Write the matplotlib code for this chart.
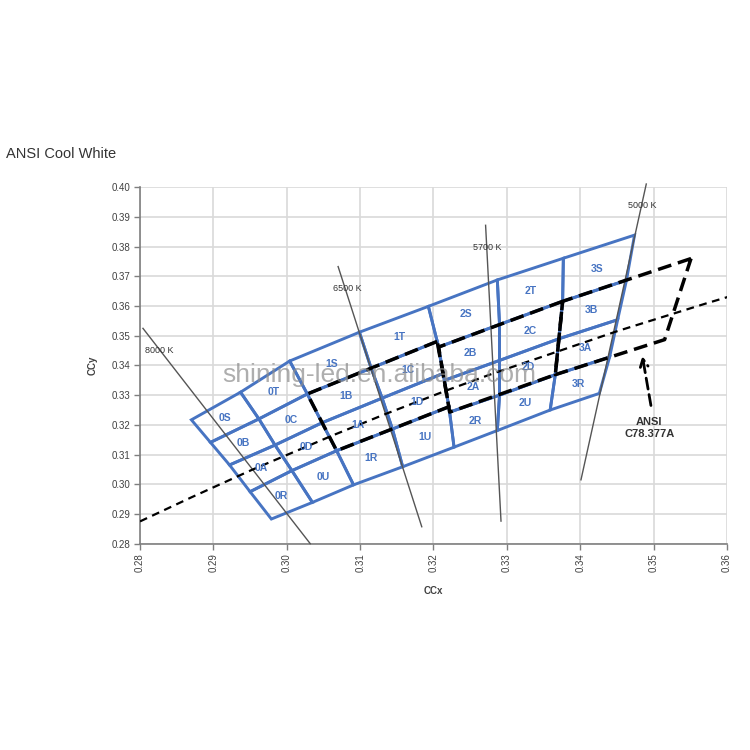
import matplotlib.pyplot as plt
from matplotlib.patches import Polygon

# bin grid nodes, row lines bottom (L0) to top (L4)
# west half: column lines C0..C4 (6500K side)
west_x = [
    [0.2979, 0.3035, 0.3091, 0.3158, 0.3228],
    [0.2950, 0.3007, 0.3068, 0.3144, 0.3221],
    [0.2922, 0.2984, 0.3048, 0.3130, 0.3213],
    [0.2896, 0.2962, 0.3028, 0.3115, 0.3205],
    [0.2870, 0.2937, 0.3004, 0.3099, 0.3193],
]
west_y = [
    [0.2883, 0.2939, 0.2998, 0.3059, 0.3125],
    [0.2975, 0.3046, 0.3113, 0.3186, 0.3261],
    [0.3065, 0.3132, 0.3207, 0.3290, 0.3373],
    [0.3141, 0.3220, 0.3304, 0.3391, 0.3481],
    [0.3217, 0.3310, 0.3415, 0.3512, 0.3599],
]
# east half: column lines C4..C7 (5700K / 5000K side)
east_x = [
    [0.3228, 0.3287, 0.3359, 0.3426],
    [0.3222, 0.3290, 0.3366, 0.3440],
    [0.3215, 0.3290, 0.3371, 0.3451],
    [0.3207, 0.3290, 0.3376, 0.3463],
    [0.3193, 0.3287, 0.3377, 0.3474],
]
east_y = [
    [0.3125, 0.3181, 0.3250, 0.3306],
    [0.3243, 0.3300, 0.3369, 0.3428],
    [0.3350, 0.3417, 0.3490, 0.3554],
    [0.3462, 0.3538, 0.3616, 0.3687],
    [0.3599, 0.3688, 0.3761, 0.3839],
]
west_names = [["0R", "0A", "0B", "0S"], ["0U", "0D", "0C", "0T"],
              ["1R", "1A", "1B", "1S"], ["1U", "1D", "1C", "1T"]]
east_names = [["2R", "2A", "2B", "2S"], ["2U", "2D", "2C", "2T"],
              ["3R", "3A", "3B", "3S"]]

# ANSI C78.377A quadrangles
ansi_6500 = [(0.3205, 0.3481), (0.3028, 0.3304), (0.3068, 0.3113), (0.3221, 0.3261)]
ansi_5700 = [(0.3376, 0.3616), (0.3207, 0.3462), (0.3222, 0.3243), (0.3366, 0.3369)]
ansi_5000 = [(0.3551, 0.3760), (0.3376, 0.3616), (0.3366, 0.3369), (0.3515, 0.3487)]

# black body locus
bb_x = [0.2800, 0.2870, 0.2952, 0.3064, 0.3135, 0.3220, 0.3280, 0.3451, 0.3573, 0.3607]
bb_y = [0.2875, 0.2956, 0.3048, 0.3166, 0.3237, 0.3318, 0.3372, 0.3516, 0.3610, 0.3635]

# isotherm lines
iso_names = ["8000 K", "6500 K", "5700 K", "5000 K"]
iso_x0 = [0.2804, 0.3070, 0.3271, 0.3490]
iso_y0 = [0.3525, 0.3733, 0.3872, 0.4011]
iso_x1 = [0.3032, 0.3184, 0.3292, 0.3401]
iso_y1 = [0.2800, 0.2857, 0.2876, 0.3015]
iso_lx = [0.2826, 0.3082, 0.3273, 0.3484]
iso_ly = [0.3451, 0.3660, 0.3798, 0.3937]

blue = "#4774C2"
plt.rcParams["font.family"] = ["Liberation Sans", "DejaVu Sans"]

fig = plt.figure(figsize=(7.5, 7.5), dpi=100)
ax = fig.add_axes([0.1867, 0.2751, 0.7826, 0.4752])
ax.set_xlim(0.28, 0.36)
ax.set_ylim(0.28, 0.40)
ax.set_xticks([0.28 + 0.01 * i for i in range(9)])
ax.set_yticks([0.28 + 0.01 * i for i in range(13)])
ax.set_xticklabels(["%.2f" % (0.28 + 0.01 * i) for i in range(9)], rotation=90)
ax.set_yticklabels(["%.2f" % (0.28 + 0.01 * i) for i in range(13)])
ax.grid(True, color="#d9d9d9", lw=1.2, zorder=0)
ax.set_axisbelow(True)
for s in ["top", "right"]:
    ax.spines[s].set_visible(False)
for s in ["left", "bottom"]:
    ax.spines[s].set_color("#7f7f7f")
    ax.spines[s].set_linewidth(1.2)
ax.tick_params(length=4, width=1, color="#7f7f7f", labelsize=7, labelcolor="#404040", pad=3)
ax.set_xlabel("CCx", fontsize=7, fontweight="bold", color="#404040", labelpad=10)
ax.set_ylabel("CCy", fontsize=7, fontweight="bold", color="#404040", labelpad=10)


def draw_cells(gx, gy, names):
    for c, col in enumerate(names):
        for r, name in enumerate(col):
            pts = [(gx[r][c], gy[r][c]), (gx[r][c + 1], gy[r][c + 1]),
                   (gx[r + 1][c + 1], gy[r + 1][c + 1]), (gx[r + 1][c], gy[r + 1][c])]
            ax.add_patch(Polygon(pts, closed=True, fill=False, edgecolor=blue,
                                 lw=2.1, joinstyle="miter", zorder=3))
            cx = sum(p[0] for p in pts) / 4
            cy = sum(p[1] for p in pts) / 4
            ax.text(cx, cy, name, color=blue, fontsize=7.5, fontweight="bold",
                    ha="center", va="center", zorder=6)


draw_cells(west_x, west_y, west_names)
draw_cells(east_x, east_y, east_names)

for i in range(len(iso_names)):
    ax.plot([iso_x0[i], iso_x1[i]], [iso_y0[i], iso_y1[i]], color="#555555",
            lw=1, zorder=4, clip_on=False)
    ax.text(iso_lx[i], iso_ly[i], iso_names[i], fontsize=6.5, color="#333333",
            ha="center", va="center", zorder=7)

for quad in [ansi_6500, ansi_5700, ansi_5000]:
    xs = [p[0] for p in quad] + [quad[0][0]]
    ys = [p[1] for p in quad] + [quad[0][1]]
    ax.plot(xs, ys, color="black", lw=2.5, linestyle=(0, (4, 2)), zorder=5)

ax.plot(bb_x, bb_y, color="black", lw=1.6, linestyle=(0, (3.5, 2.5)), zorder=5)

ax.annotate("", xy=(0.3484, 0.3441), xytext=(0.3497, 0.3256),
            arrowprops=dict(arrowstyle="->", lw=2, color="black",
                            linestyle=(0, (4, 2)), mutation_scale=14))
ax.text(0.3494, 0.3190, "ANSI\nC78.377A", fontsize=8, fontweight="bold",
        color="#333333", ha="center", va="center", linespacing=1.3)

# watermark
ax.text(0.2912, 0.3368, "shining-led.en.alibaba.com", fontsize=19, color="#8c8c8c",
        alpha=0.7, ha="left", va="center", zorder=8)

fig.text(0.008, 0.795, "ANSI Cool White", fontsize=10.5, color="#333333",
         ha="left", va="center")

fig.savefig("out.png", dpi=100, facecolor="white")
